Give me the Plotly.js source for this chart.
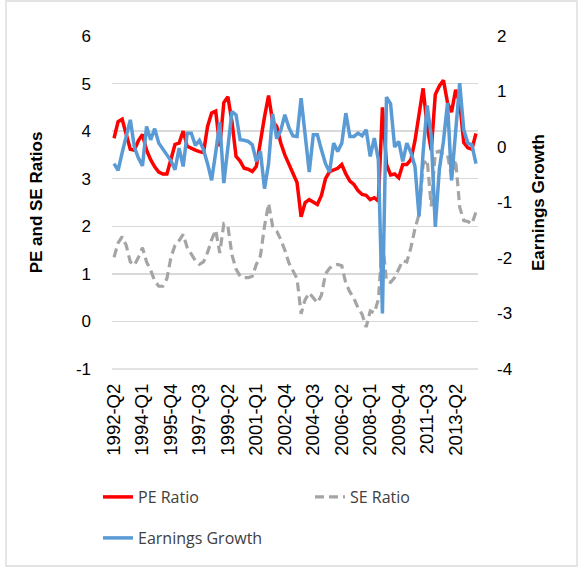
<!DOCTYPE html>
<html>
<head>
<meta charset="utf-8">
<script src="https://cdn.plot.ly/plotly-3.0.1.min.js"></script>
<style>html,body{margin:0;padding:0;background:#fff;}#chart{width:578px;height:570px;}</style>
</head>
<body>
<div id="chart"></div>
<script>
// Quarters 1992-Q2 .. 2014-Q3
const quarters = [];
for (let y = 1992; y <= 2014; y++) {
  for (let q = 1; q <= 4; q++) {
    if (y === 1992 && q < 2) continue;
    if (y === 2014 && q > 3) continue;
    quarters.push(y + "-Q" + q);
  }
}
const tickLabels = ["1992-Q2","1994-Q1","1995-Q4","1997-Q3","1999-Q2","2001-Q1","2002-Q4","2004-Q3","2006-Q2","2008-Q1","2009-Q4","2011-Q3","2013-Q2"];
const leftTicks = [-1, 0, 1, 2, 3, 4, 5, 6];
const leftTickText = ["-1", "0", "1", "2", "3", "4", "5", "6"];
const rightTicks = [-4, -3, -2, -1, 0, 1, 2];
const rightTickText = ["-4", "-3", "-2", "-1", "0", "1", "2"];

const peRatio = [3.85,4.2,4.25,3.9,3.62,3.6,3.8,3.93,3.6,3.4,
  3.25,3.14,3.1,3.1,3.4,3.72,3.75,4.0,3.68,3.63,
  3.6,3.57,3.55,4.1,4.38,4.42,3.68,4.6,4.72,4.2,
  3.47,3.37,3.22,3.2,3.15,3.26,3.8,4.3,4.75,4.2,
  4.1,3.75,3.5,3.3,3.1,2.92,2.2,2.5,2.56,2.5,
  2.46,2.65,3.0,3.15,3.19,3.22,3.3,3.1,2.95,2.88,
  2.75,2.67,2.65,2.56,2.6,2.53,4.5,3.3,3.08,3.1,
  3.02,3.3,3.3,3.4,3.8,4.4,4.9,4.1,3.6,4.77,
  4.95,5.07,4.6,4.4,4.87,4.6,3.76,3.65,3.62,3.95];

const seRatio = [1.35,1.65,1.78,1.6,1.25,1.18,1.35,1.55,1.25,1.08,
  0.85,0.74,0.74,0.9,1.35,1.6,1.7,1.83,1.55,1.4,
  1.28,1.2,1.25,1.45,1.72,1.92,1.44,2.05,2.0,1.4,
  1.1,0.95,0.92,0.92,0.95,1.2,1.38,2.0,2.48,2.0,
  1.9,1.72,1.5,1.23,1.05,0.9,0.16,0.46,0.6,0.5,
  0.39,0.55,1.0,1.12,1.18,1.2,1.17,0.8,0.62,0.48,
  0.28,0.15,-0.12,0.22,0.18,0.46,1.7,0.85,0.82,0.92,
  1.1,1.28,1.25,1.55,1.95,2.25,3.3,3.4,2.42,3.55,
  3.58,3.5,3.5,3.05,3.4,2.4,2.12,2.1,2.05,2.3];

const earningsGrowth = [-0.3,-0.42,-0.1,0.2,0.49,0.0,-0.2,-0.34,0.37,0.13,
  0.33,0.07,-0.03,-0.15,-0.25,-0.41,-0.02,-0.35,0.25,0.25,
  0.03,0.12,-0.05,-0.3,-0.6,-0.1,0.45,-0.65,0.0,0.64,
  0.58,0.13,0.12,0.1,0.04,-0.26,-0.08,-0.75,-0.3,0.6,
  0.15,0.3,0.58,0.35,0.2,0.19,0.88,0.19,-0.45,0.22,
  0.22,-0.05,-0.3,-0.45,0.07,-0.08,0.07,0.61,0.19,0.19,
  0.25,0.2,0.31,-0.17,0.16,-0.23,-3.0,0.9,0.78,0.0,
  0.1,-0.26,0.07,-0.1,-0.35,-1.25,-0.1,0.75,0.2,-1.44,
  -0.4,0.1,0.79,-0.6,0.19,1.15,0.31,0.07,0.04,-0.3];

const tickFont = {family: "Liberation Sans, Arial, sans-serif", size: 17, color: "#000"};
const xTickFont = {family: "Liberation Sans, Arial, sans-serif", size: 18.5, color: "#000"};
const titleFont = {family: "Liberation Sans, Arial, sans-serif", size: 17, color: "#000", weight: "bold"};
const legendFont = {family: "Open Sans, Noto Sans, sans-serif", size: 16, color: "#404040"};

const traces = [
  {x: quarters, y: peRatio, name: "PE Ratio", type: "scatter", mode: "lines",
   line: {color: "#FF0000", width: 3.5}, yaxis: "y", legend: "legend"},
  {x: quarters, y: seRatio, name: "SE Ratio", type: "scatter", mode: "lines",
   line: {color: "#A5A5A5", width: 3.2, dash: "9px,5px"}, yaxis: "y", legend: "legend"},
  {x: quarters, y: earningsGrowth, name: "Earnings Growth", type: "scatter", mode: "lines",
   line: {color: "#5B9BD5", width: 3.5}, yaxis: "y2", legend: "legend2"}
];

const legX = (98 - 112) / 366;
const layout = {
  width: 578, height: 570,
  margin: {l: 112, r: 100, t: 36, b: 201},
  paper_bgcolor: "#fff", plot_bgcolor: "#fff",
  showlegend: true,
  legend: {orientation: "h", x: legX, y: (369 - 497) / 333, xanchor: "left", yanchor: "middle",
    font: legendFont, entrywidth: 167, entrywidthmode: "pixels", bgcolor: "rgba(0,0,0,0)"},
  legend2: {orientation: "h", x: legX, y: (369 - 538) / 333, xanchor: "left", yanchor: "middle",
    font: legendFont, bgcolor: "rgba(0,0,0,0)"},
  xaxis: {type: "category", categoryorder: "array", categoryarray: quarters,
    range: [-0.5, quarters.length - 0.5], tickmode: "array", tickvals: tickLabels, ticktext: tickLabels,
    tickangle: -90, tickfont: xTickFont, showgrid: false, zeroline: false,
    showline: false, ticks: "", automargin: false, ticklabelstandoff: 10},
  yaxis: {range: [-1, 6], tickmode: "array", tickvals: leftTicks, ticktext: leftTickText,
    tickfont: tickFont, showgrid: true,
    gridcolor: "#D9D9D9", gridwidth: 1.3, zeroline: false, showline: false, ticks: "",
    automargin: false, ticklabelstandoff: 20,
    title: {text: "PE and SE Ratios", font: titleFont, standoff: 28}},
  yaxis2: {range: [-4, 2], tickmode: "array", tickvals: rightTicks, ticktext: rightTickText,
    overlaying: "y", side: "right",
    tickfont: tickFont, showgrid: false, zeroline: false, showline: false, ticks: "",
    automargin: false, ticklabelstandoff: 18,
    title: {text: "Earnings Growth", font: titleFont, standoff: 20}},
  shapes: [
    {type: "line", xref: "paper", yref: "paper", x0: 0, x1: 1, y0: 0, y1: 0,
     line: {color: "#D9D9D9", width: 1.3}, layer: "below"},
    {type: "rect", xref: "paper", yref: "paper",
     x0: (6 - 112) / 366, x1: (577 - 112) / 366, y0: (369 - 566) / 333, y1: (369 - 1) / 333,
     line: {color: "#D9D9D9", width: 1.3}, layer: "below"}
  ]
};

Plotly.newPlot("chart", traces, layout, {displayModeBar: false, staticPlot: true});
</script>
</body>
</html>
